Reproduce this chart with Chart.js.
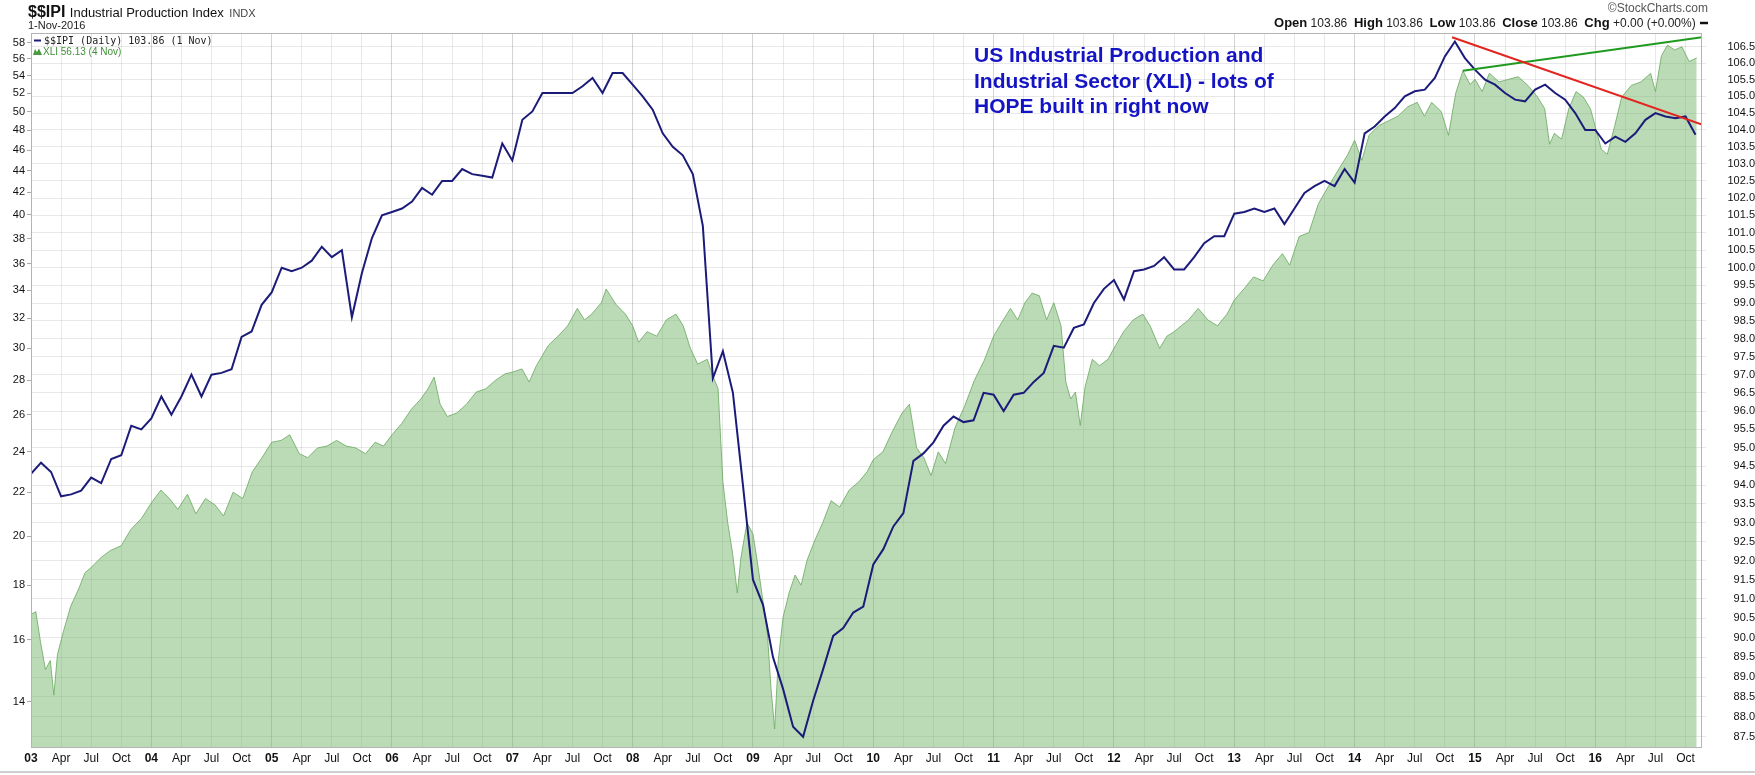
<!DOCTYPE html>
<html>
<head>
<meta charset="utf-8">
<script src="https://cdn.jsdelivr.net/npm/chart.js@4.4.1/dist/chart.umd.min.js"></script>
<style>
  html, body { margin: 0; padding: 0; background: #fff; }
  #wrap { width: 1755px; height: 775px; }
</style>
</head>
<body>
<div id="wrap"><canvas id="myChart" width="1755" height="775"></canvas></div>
<script>
// $$IPI, one value per month from Jan 2003 to Nov 2016 (right axis)
const ipiStartYear = 2003;
const ipiValues = [
  94.3, 94.6, 94.35, 93.7, 93.75, 93.85, 94.2, 94.05, 94.7, 94.8, 95.6, 95.5,
  95.8, 96.4, 95.9, 96.4, 97.0, 96.4, 97.0, 97.05, 97.15, 98.05, 98.2, 98.95,
  99.3, 100.0, 99.9, 100.0, 100.2, 100.6, 100.3, 100.5, 98.6, 99.85, 100.85, 101.5,
  101.6, 101.7, 101.9, 102.3, 102.1, 102.5, 102.5, 102.85, 102.7, 102.65, 102.6, 103.6,
  103.1, 104.3, 104.55, 105.1, 105.1, 105.1, 105.1, 105.3, 105.55, 105.1, 105.7, 105.7,
  105.35, 105.0, 104.6, 103.9, 103.5, 103.25, 102.7, 101.2, 96.9, 97.65, 96.5, 94.0,
  91.5, 90.85, 89.5, 88.7, 87.75, 87.5, 88.4, 89.2, 90.05, 90.25, 90.65, 90.8,
  91.9, 92.3, 92.9, 93.25, 94.65, 94.85, 95.15, 95.6, 95.85, 95.7, 95.75, 96.5,
  96.45, 96.0, 96.45, 96.5, 96.8, 97.05, 97.8, 97.75, 98.3, 98.4, 99.0, 99.4,
  99.65, 99.1, 99.9, 99.95, 100.05, 100.3, 99.95, 99.95, 100.3, 100.7, 100.9, 100.9,
  101.55, 101.6, 101.7, 101.6, 101.7, 101.25, 101.7, 102.15, 102.35, 102.5, 102.35, 102.85,
  102.45, 103.9, 104.1, 104.4, 104.65, 105.0, 105.15, 105.2, 105.55, 106.2, 106.65, 106.15,
  105.8, 105.5, 105.35, 105.1, 104.9, 104.85, 105.2, 105.35, 105.1, 104.9, 104.5, 104.0,
  104.0, 103.6, 103.8, 103.65, 103.9, 104.3, 104.5, 104.4, 104.35, 104.4, 103.86
];

// XLI (left axis), dates as decimal years
const xliDates = [
  2003.00, 2003.04, 2003.08, 2003.12, 2003.16, 2003.19, 2003.22, 2003.27, 2003.33, 2003.40, 2003.45, 2003.50, 2003.58, 2003.66, 2003.75, 2003.83, 2003.92,
  2004.00, 2004.08, 2004.15, 2004.22, 2004.30, 2004.37, 2004.45, 2004.53, 2004.60, 2004.68, 2004.76, 2004.84, 2004.92,
  2005.00, 2005.08, 2005.15, 2005.23, 2005.30, 2005.38, 2005.46, 2005.54, 2005.62, 2005.70, 2005.78, 2005.86, 2005.93,
  2006.00, 2006.08, 2006.16, 2006.24, 2006.30, 2006.35, 2006.40, 2006.46, 2006.54, 2006.62, 2006.70, 2006.78, 2006.86, 2006.94,
  2007.00, 2007.08, 2007.14, 2007.20, 2007.30, 2007.38, 2007.46, 2007.54, 2007.60, 2007.66, 2007.74, 2007.78, 2007.86, 2007.94,
  2008.00, 2008.05, 2008.12, 2008.20, 2008.28, 2008.36, 2008.42, 2008.48, 2008.54, 2008.62, 2008.67, 2008.71, 2008.75, 2008.79, 2008.83, 2008.87, 2008.90, 2008.95,
  2009.00, 2009.04, 2009.08, 2009.12, 2009.15, 2009.18, 2009.21, 2009.25, 2009.30, 2009.35, 2009.40, 2009.45, 2009.52, 2009.58, 2009.65, 2009.72, 2009.80, 2009.88, 2009.95,
  2010.00, 2010.08, 2010.16, 2010.24, 2010.30, 2010.36, 2010.42, 2010.48, 2010.54, 2010.60, 2010.68, 2010.76, 2010.84, 2010.92,
  2011.00, 2011.08, 2011.14, 2011.20, 2011.26, 2011.32, 2011.38, 2011.44, 2011.50, 2011.56, 2011.60, 2011.64, 2011.68, 2011.72, 2011.76, 2011.82, 2011.88, 2011.95,
  2012.00, 2012.08, 2012.16, 2012.24, 2012.30, 2012.38, 2012.44, 2012.50, 2012.56, 2012.62, 2012.70, 2012.78, 2012.86, 2012.94,
  2013.00, 2013.08, 2013.16, 2013.24, 2013.32, 2013.40, 2013.46, 2013.54, 2013.62, 2013.70, 2013.78, 2013.86, 2013.94,
  2014.00, 2014.06, 2014.12, 2014.20, 2014.28, 2014.36, 2014.44, 2014.52, 2014.58, 2014.64, 2014.72, 2014.78, 2014.84, 2014.90, 2014.96,
  2015.00, 2015.06, 2015.12, 2015.20, 2015.28, 2015.36, 2015.44, 2015.52, 2015.58, 2015.62, 2015.66, 2015.72, 2015.78, 2015.84, 2015.90, 2015.96,
  2016.00, 2016.05, 2016.10, 2016.16, 2016.22, 2016.30, 2016.38, 2016.46, 2016.50, 2016.55, 2016.60, 2016.66, 2016.72, 2016.78, 2016.843
];
const xliValues = [
  16.9, 17.0, 15.9, 15.0, 15.3, 14.2, 15.5, 16.3, 17.2, 17.9, 18.5, 18.7, 19.1, 19.4, 19.6, 20.3, 20.8,
  21.5, 22.1, 21.7, 21.2, 21.9, 21.0, 21.7, 21.4, 20.9, 22.0, 21.7, 23.0, 23.7,
  24.5, 24.6, 24.9, 23.9, 23.7, 24.2, 24.3, 24.6, 24.3, 24.2, 23.9, 24.5, 24.3,
  24.9, 25.5, 26.3, 26.9, 27.5, 28.2, 26.6, 25.9, 26.1, 26.6, 27.3, 27.5, 28.0, 28.4,
  28.5, 28.7, 27.9, 28.9, 30.2, 30.8, 31.5, 32.7, 31.9, 32.3, 33.1, 34.1, 33.0, 32.3,
  31.5, 30.4, 31.1, 30.8, 31.9, 32.3, 31.5, 30.0, 29.0, 29.3, 28.2, 27.5, 22.5, 20.6, 19.3, 17.7, 19.1, 20.6,
  20.1, 18.8, 17.5, 16.2, 14.4, 13.2, 15.3, 16.8, 17.7, 18.4, 18.0, 19.0, 19.9, 20.6, 21.6, 21.3, 22.1, 22.5, 23.0,
  23.6, 24.0, 25.1, 26.1, 26.6, 24.2, 23.7, 22.8, 24.0, 23.4, 25.3, 26.5, 28.0, 29.2,
  30.8, 31.9, 32.7, 31.9, 33.1, 33.8, 33.6, 31.9, 33.1, 31.5, 27.9, 26.9, 27.3, 25.4, 27.6, 29.3, 28.9, 29.3,
  30.0, 31.1, 31.9, 32.3, 31.5, 30.0, 30.8, 31.1, 31.5, 31.9, 32.7, 31.9, 31.5, 32.3,
  33.3, 34.1, 35.0, 34.7, 35.9, 36.8, 35.9, 38.2, 38.5, 41.0, 42.5, 44.0, 45.5,
  47.0, 45.0, 47.5, 48.5, 49.0, 49.5, 50.5, 51.0, 49.5, 51.0, 50.0, 47.5, 52.0, 54.6, 53.0,
  53.6, 52.2, 54.3, 53.3, 53.6, 53.9, 52.9, 51.6, 50.3, 46.6, 47.7, 47.1, 50.3, 52.2, 51.6, 50.3,
  48.4, 46.1, 45.6, 48.4, 51.6, 52.9, 53.3, 54.3, 52.2, 56.4, 57.7, 57.1, 57.5, 55.7, 56.13
];

// hand-drawn trend lines
const redTrendDates = [2014.81, 2016.887];
const redTrendValues = [106.78, 104.16];   // on the IPI axis
const greenTrendDates = [2014.90, 2016.887];
const greenTrendValues = [54.6, 58.7];     // on the XLI axis

// axis ticks
const leftTicks = [14, 16, 18, 20, 22, 24, 26, 28, 30, 32, 34, 36, 38, 40, 42, 44, 46, 48, 50, 52, 54, 56, 58];
const rightTicks = [87.5, 88.0, 88.5, 89.0, 89.5, 90.0, 90.5, 91.0, 91.5, 92.0, 92.5, 93.0, 93.5, 94.0, 94.5, 95.0,
  95.5, 96.0, 96.5, 97.0, 97.5, 98.0, 98.5, 99.0, 99.5, 100.0, 100.5, 101.0, 101.5, 102.0, 102.5, 103.0, 103.5,
  104.0, 104.5, 105.0, 105.5, 106.0, 106.5];
const tickYears = [2003, 2004, 2005, 2006, 2007, 2008, 2009, 2010, 2011, 2012, 2013, 2014, 2015, 2016];
const quarterNames = ['Apr', 'Jul', 'Oct'];

const FONT = '"Liberation Sans", Arial, sans-serif';

const xTicks = [];
tickYears.forEach(y => {
  xTicks.push(y);
  quarterNames.forEach((q, i) => xTicks.push(y + (i + 1) * 0.25));
});

function isYearTick(v) {
  return Math.abs(v - Math.round(v)) < 1e-6;
}

const ipiPoints = ipiValues.map((v, i) => ({ x: ipiStartYear + i / 12, y: v }));
const xliPoints = xliDates.map((d, i) => ({ x: d, y: xliValues[i] }));
const redPoints = redTrendDates.map((d, i) => ({ x: d, y: redTrendValues[i] }));
const greenPoints = greenTrendDates.map((d, i) => ({ x: d, y: greenTrendValues[i] }));

// header, legend lines, note and frame
const overlay = {
  id: 'overlay',
  afterDraw(chart) {
    const c = chart.ctx;
    const a = chart.chartArea;
    c.save();

    c.strokeStyle = '#b4b4b4';
    c.lineWidth = 1;
    c.strokeRect(a.left + 0.5, a.top + 0.5, a.right - a.left - 1, a.bottom - a.top - 1);

    c.strokeStyle = '#cfcfcf';
    c.lineWidth = 2;
    c.beginPath();
    c.moveTo(0, 772);
    c.lineTo(1755, 772);
    c.stroke();

    c.textBaseline = 'alphabetic';
    c.textAlign = 'left';
    c.fillStyle = '#111';
    c.font = 'bold 16px ' + FONT;
    c.fillText('$$IPI', 28, 17);
    let w = c.measureText('$$IPI ').width;
    c.font = '13px ' + FONT;
    c.fillText('Industrial Production Index', 28 + w, 17);
    w += c.measureText('Industrial Production Index ').width;
    c.font = '11px ' + FONT;
    c.fillStyle = '#444';
    c.fillText('INDX', 30 + w, 17);
    c.fillStyle = '#222';
    c.font = '11px ' + FONT;
    c.fillText('1-Nov-2016', 28, 29);

    // legend entries inside the plot
    c.strokeStyle = '#1b1b7a';
    c.lineWidth = 2;
    c.beginPath();
    c.moveTo(34, 40.5);
    c.lineTo(41, 40.5);
    c.stroke();
    c.fillStyle = '#222';
    c.font = '10px "DejaVu Sans Mono", monospace';
    c.fillText('$$IPI (Daily) 103.86 (1 Nov)', 44, 44);
    c.fillStyle = '#4a9a40';
    c.beginPath();
    c.moveTo(33, 55);
    c.lineTo(35, 49);
    c.lineTo(37, 52);
    c.lineTo(39, 48.5);
    c.lineTo(42, 55);
    c.closePath();
    c.fill();
    c.fillStyle = '#3f8f36';
    c.font = '10px ' + FONT;
    c.fillText('XLI 56.13 (4 Nov)', 43, 55);

    // top right quote line
    c.textAlign = 'right';
    c.fillStyle = '#555';
    c.font = '12px ' + FONT;
    c.fillText('\u00A9StockCharts.com', 1708, 12);
    const parts = [
      ['Open', true], [' 103.86  ', false], ['High', true], [' 103.86  ', false], ['Low', true], [' 103.86  ', false],
      ['Close', true], [' 103.86  ', false], ['Chg', true], [' +0.00 (+0.00%) ', false]
    ];
    c.textAlign = 'left';
    let total = 9;
    parts.forEach(p => {
      c.font = (p[1] ? 'bold 13px ' : '12px ') + FONT;
      total += c.measureText(p[0]).width;
    });
    let x = 1708 - total;
    parts.forEach(p => {
      c.font = (p[1] ? 'bold 13px ' : '12px ') + FONT;
      c.fillStyle = p[1] ? '#111' : '#222';
      c.fillText(p[0], x, 27);
      x += c.measureText(p[0]).width;
    });
    c.strokeStyle = '#111';
    c.lineWidth = 2.5;
    c.beginPath();
    c.moveTo(x + 1, 23);
    c.lineTo(x + 9, 23);
    c.stroke();

    // note
    c.fillStyle = '#1414c4';
    c.font = 'bold 21px ' + FONT;
    c.fillText('US Industrial Production and', 974, 62);
    c.fillText('Industrial Sector (XLI) - lots of', 974, 88);
    c.fillText('HOPE built in right now', 974, 113);

    c.restore();
  }
};

const ctx = document.getElementById('myChart');
new Chart(ctx, {
  type: 'line',
  data: {
    datasets: [
      {
        label: 'red trend',
        data: redPoints,
        yAxisID: 'yR',
        borderColor: '#e3241f',
        borderWidth: 2,
        pointRadius: 0,
        order: 0
      },
      {
        label: 'green trend',
        data: greenPoints,
        yAxisID: 'yL',
        borderColor: '#1f9a1f',
        borderWidth: 2,
        pointRadius: 0,
        order: 0
      },
      {
        label: '$$IPI',
        data: ipiPoints,
        yAxisID: 'yR',
        borderColor: '#1b1b7a',
        borderWidth: 2,
        pointRadius: 0,
        tension: 0,
        order: 1
      },
      {
        label: 'XLI',
        data: xliPoints,
        yAxisID: 'yL',
        borderColor: 'rgba(110, 172, 100, 0.85)',
        backgroundColor: 'rgba(105, 175, 95, 0.45)',
        borderWidth: 1,
        pointRadius: 0,
        fill: 'start',
        order: 3
      }
    ]
  },
  options: {
    responsive: false,
    animation: false,
    layout: { padding: { top: 33, left: 0, right: 0, bottom: 0 } },
    plugins: {
      legend: { display: false },
      tooltip: { enabled: false }
    },
    scales: {
      x: {
        type: 'linear',
        min: 2003.0,
        max: 2016.887,
        afterBuildTicks: (scale) => { scale.ticks = xTicks.map(v => ({ value: v })); },
        afterFit: (scale) => { scale.height = 27; },
        grid: {
          drawTicks: false,
          color: (c) => (c.tick && isYearTick(c.tick.value)) ? 'rgba(0,0,0,0.17)' : 'rgba(0,0,0,0.09)'
        },
        border: { display: false },
        ticks: {
          autoSkip: false,
          maxRotation: 0,
          padding: 3,
          color: '#111',
          font: (c) => ({ family: FONT, size: 12, weight: (c.tick && isYearTick(c.tick.value)) ? 'bold' : 'normal' }),
          callback: (v) => {
            const y = Math.round(v);
            if (isYearTick(v)) return String(y).slice(2);
            const q = Math.round((v - Math.floor(v + 1e-6)) * 4);
            return quarterNames[q - 1];
          }
        }
      },
      yL: {
        type: 'logarithmic',
        position: 'left',
        min: 12.67,
        max: 59.23,
        afterBuildTicks: (scale) => { scale.ticks = leftTicks.map(v => ({ value: v })); },
        afterFit: (scale) => { scale.width = 31; },
        grid: { drawOnChartArea: false, tickLength: 4, color: '#aaa' },
        border: { display: false },
        ticks: {
          autoSkip: false,
          padding: 2,
          color: '#111',
          font: { family: FONT, size: 11 },
          callback: (v) => String(v)
        }
      },
      yR: {
        type: 'logarithmic',
        position: 'right',
        min: 87.22,
        max: 106.91,
        afterBuildTicks: (scale) => { scale.ticks = rightTicks.map(v => ({ value: v })); },
        afterFit: (scale) => { scale.width = 53; },
        grid: { tickLength: 4, color: 'rgba(0,0,0,0.09)' },
        border: { display: false },
        ticks: {
          autoSkip: false,
          padding: 1,
          crossAlign: 'far',
          color: '#111',
          font: { family: FONT, size: 11 },
          callback: (v) => Number(v).toFixed(1)
        }
      }
    }
  },
  plugins: [overlay]
});
</script>
</body>
</html>
